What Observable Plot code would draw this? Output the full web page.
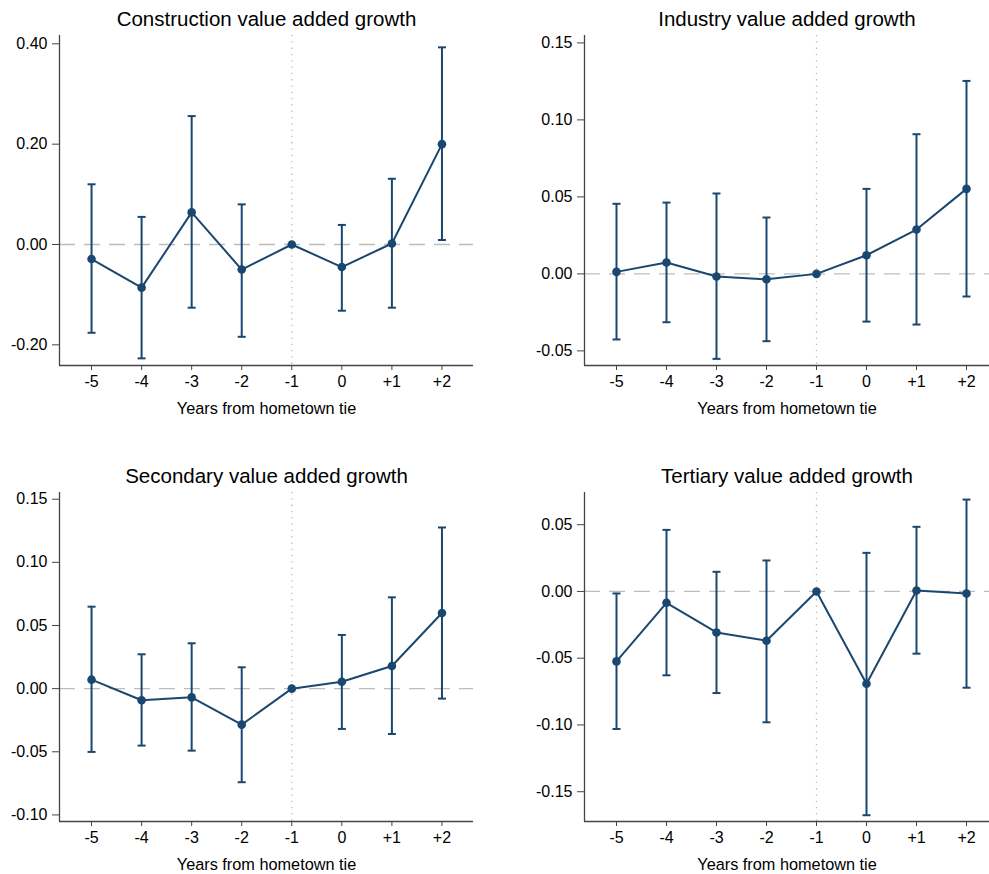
<!DOCTYPE html>
<html>
<head>
<meta charset="utf-8">
<script src="https://cdn.jsdelivr.net/npm/d3@7"></script>
<script src="https://cdn.jsdelivr.net/npm/@observablehq/plot@0.6"></script>
<style>
  html, body { margin: 0; padding: 0; background: #fff; }
  #wrap { position: relative; width: 989px; height: 874px; font-family: "Liberation Sans", Arial, Helvetica, sans-serif; }
  .panel { position: absolute; }
  .panel svg { display: block; }
</style>
</head>
<body>
<div id="wrap"></div>
<script>
// ---- data ----
const years = [-5, -4, -3, -2, -1, 0, 1, 2];
const yearLabels = ["-5", "-4", "-3", "-2", "-1", "0", "+1", "+2"];
const xAxisTitle = "Years from hometown tie";

const titles = [
  "Construction value added growth",
  "Industry value added growth",
  "Secondary value added growth",
  "Tertiary value added growth"
];

const constructionEst = [-0.029, -0.086, 0.064, -0.050, 0.000, -0.045, 0.002, 0.200];
const constructionLo  = [-0.176, -0.227, -0.126, -0.184, 0.000, -0.132, -0.126, 0.009];
const constructionHi  = [0.120, 0.055, 0.256, 0.080, 0.000, 0.039, 0.131, 0.393];

const industryEst = [0.0013, 0.0074, -0.0017, -0.0035, 0.0000, 0.0121, 0.0288, 0.0552];
const industryLo  = [-0.0426, -0.0314, -0.0552, -0.0437, 0.0000, -0.0310, -0.0329, -0.0147];
const industryHi  = [0.0455, 0.0463, 0.0522, 0.0366, 0.0000, 0.0552, 0.0907, 0.1253];

const secondaryEst = [0.0071, -0.0092, -0.0069, -0.0285, 0.0000, 0.0055, 0.0179, 0.0599];
const secondaryLo  = [-0.0501, -0.0451, -0.0491, -0.0741, 0.0000, -0.0319, -0.0359, -0.0079];
const secondaryHi  = [0.0649, 0.0272, 0.0359, 0.0169, 0.0000, 0.0425, 0.0723, 0.1276];

const tertiaryEst = [-0.0524, -0.0085, -0.0307, -0.0369, 0.0000, -0.0691, 0.0007, -0.0015];
const tertiaryLo  = [-0.1030, -0.0628, -0.0761, -0.0980, 0.0000, -0.1676, -0.0466, -0.0721];
const tertiaryHi  = [-0.0015, 0.0461, 0.0147, 0.0232, 0.0000, 0.0289, 0.0484, 0.0688];

const yTicks1 = [-0.20, 0.00, 0.20, 0.40];
const yTicks2 = [-0.05, 0.00, 0.05, 0.10, 0.15];
const yTicks3 = [-0.10, -0.05, 0.00, 0.05, 0.10, 0.15];
const yTicks4 = [-0.15, -0.10, -0.05, 0.00, 0.05];

// ---- layout / style ----
const navy = "#1a476f";
const font = '"Liberation Sans", Arial, Helvetica, sans-serif';

const panels = [
  {title: titles[0], est: constructionEst, lo: constructionLo, hi: constructionHi, ticks: yTicks1,
   left: 0, top: 0, width: 494, height: 437, mL: 59, mR: 21, mT: 35, mB: 72,
   xDomain: [-5.64, 2.63], yDomain: [-0.2412, 0.4166]},
  {title: titles[1], est: industryEst, lo: industryLo, hi: industryHi, ticks: yTicks2,
   left: 494, top: 0, width: 495, height: 437, mL: 90, mR: 0, mT: 35, mB: 72,
   xDomain: [-5.64, 2.46], yDomain: [-0.0595, 0.1548]},
  {title: titles[2], est: secondaryEst, lo: secondaryLo, hi: secondaryHi, ticks: yTicks3,
   left: 0, top: 437, width: 494, height: 437, mL: 59, mR: 21, mT: 55, mB: 53,
   xDomain: [-5.64, 2.63], yDomain: [-0.1052, 0.1553]},
  {title: titles[3], est: tertiaryEst, lo: tertiaryLo, hi: tertiaryHi, ticks: yTicks4,
   left: 494, top: 437, width: 495, height: 437, mL: 90, mR: 0, mT: 55, mB: 53,
   xDomain: [-5.64, 2.46], yDomain: [-0.1723, 0.0741]}
];

const wrap = document.getElementById("wrap");

for (const p of panels) {
  const rows = years.map((yr, i) => ({x: yr, label: yearLabels[i], est: p.est[i], lo: p.lo[i], hi: p.hi[i]}));
  const bars = rows.filter(d => d.hi !== d.lo);
  const capHalf = 0.08;
  const chart = Plot.plot({
    width: p.width,
    height: p.height,
    marginLeft: p.mL,
    marginRight: p.mR,
    marginTop: p.mT,
    marginBottom: p.mB,
    style: {fontFamily: font, fontSize: "16px", color: "#000", background: "#fff", overflow: "visible"},
    x: {domain: p.xDomain, ticks: years, tickFormat: d => yearLabels[years.indexOf(d)]},
    y: {domain: p.yDomain},
    marks: [
      // reference lines
      Plot.ruleY([0], {stroke: "#bdbdbd", strokeWidth: 1.3, strokeDasharray: "16,9"}),
      Plot.ruleX([-1], {stroke: "#b8b8b8", strokeWidth: 1.3, strokeDasharray: "1.3,5"}),
      // axes
      Plot.axisY(p.ticks, {tickSize: 7, tickPadding: 5, tickFormat: d => d.toFixed(2), stroke: "#444", fill: "#000", fontSize: 16, label: null}),
      Plot.axisX(years, {tickSize: 5, tickPadding: 5, tickFormat: d => yearLabels[years.indexOf(d)], stroke: "#444", fill: "#000", fontSize: 16, label: null}),
      Plot.ruleX([p.xDomain[0]], {stroke: "#444", strokeWidth: 1.3}),
      Plot.ruleY([p.yDomain[0]], {stroke: "#444", strokeWidth: 1.3}),
      // error bars
      Plot.link(bars, {x1: "x", x2: "x", y1: "lo", y2: "hi", stroke: navy, strokeWidth: 2}),
      Plot.link(bars, {x1: d => d.x - capHalf, x2: d => d.x + capHalf, y1: "lo", y2: "lo", stroke: navy, strokeWidth: 2}),
      Plot.link(bars, {x1: d => d.x - capHalf, x2: d => d.x + capHalf, y1: "hi", y2: "hi", stroke: navy, strokeWidth: 2}),
      // estimate line and points
      Plot.line(rows, {x: "x", y: "est", stroke: navy, strokeWidth: 2}),
      Plot.dot(rows, {x: "x", y: "est", r: 4.3, fill: navy, stroke: "none"}),
      // title
      Plot.text([p.title], {frameAnchor: "top", dy: -16, text: d => d, fontSize: 20.5, fill: "#000", lineAnchor: "middle"}),
      // x axis title
      Plot.text([xAxisTitle], {frameAnchor: "bottom", dy: 43, text: d => d, fontSize: 16.3, fill: "#000", lineAnchor: "middle"})
    ]
  });
  const div = document.createElement("div");
  div.className = "panel";
  div.style.left = p.left + "px";
  div.style.top = p.top + "px";
  div.appendChild(chart);
  wrap.appendChild(div);
}
</script>
</body>
</html>
